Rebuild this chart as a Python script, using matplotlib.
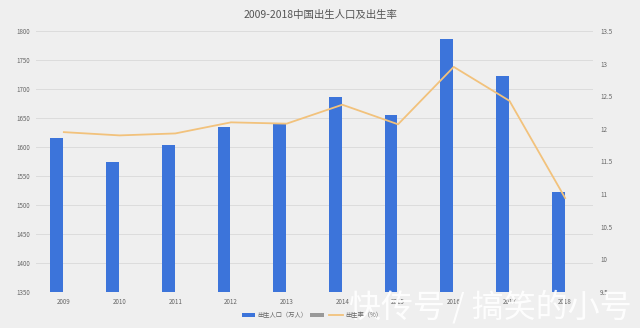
import matplotlib
matplotlib.use("Agg")
import matplotlib.pyplot as plt
import numpy as np
from matplotlib.patches import Patch
from matplotlib.lines import Line2D

plt.rcParams['font.family'] = ['Noto Sans CJK SC', 'DejaVu Sans']

years = ['2009', '2010', '2011', '2012', '2013', '2014', '2015', '2016', '2017', '2018']
births = [1615, 1574, 1604, 1635, 1640, 1687, 1655, 1786, 1723, 1523]
rate = [11.95, 11.90, 11.93, 12.10, 12.08, 12.37, 12.07, 12.95, 12.43, 10.94]
left_ticks = [1350, 1400, 1450, 1500, 1550, 1600, 1650, 1700, 1750, 1800]
right_ticks = [9.5, 10, 10.5, 11, 11.5, 12, 12.5, 13, 13.5]
right_labels = ['9.5', '10', '10.5', '11', '11.5', '12', '12.5', '13', '13.5']

bg = '#efefef'
bar_c = '#3c74da'
line_c = '#f2c27c'
txt_c = '#666666'

fig = plt.figure(figsize=(6.4, 3.28), dpi=100, facecolor=bg)
ax = fig.add_axes([36/640, 1-292/328, (593-36)/640, (292-31)/328])
ax.set_facecolor(bg)
x = np.arange(len(years))
ax.bar(x - 0.125, births, width=0.23, color=bar_c, zorder=2)
ax.set_ylim(1350, 1800)
ax.set_xlim(-0.5, len(years) - 0.5)
ax.set_yticks(left_ticks)
ax.set_yticklabels([str(t) for t in left_ticks], fontsize=4.5, color=txt_c)
ax.set_xticks(x)
ax.set_xticklabels(years, fontsize=4.5, color=txt_c)
ax.tick_params(length=0, pad=4)
ax.grid(axis='y', color='#dcdcdc', linewidth=0.7, zorder=0)
for s in ax.spines.values():
    s.set_visible(False)

ax2 = ax.twinx()
ax2.plot(x, rate, color=line_c, linewidth=1.3, zorder=3)
ax2.set_ylim(9.5, 13.5)
ax2.set_yticks(right_ticks)
ax2.set_yticklabels(right_labels, fontsize=4.5, color=txt_c)
ax2.tick_params(length=0, pad=5)
for s in ax2.spines.values():
    s.set_visible(False)

fig.text(0.5, 1-15/328, '2009-2018中国出生人口及出生率', ha='center', va='center',
         fontsize=7.5, color='#555555')

handles = [Patch(facecolor=bar_c, edgecolor='none'),
           Patch(facecolor='#999999', edgecolor='none'),
           Line2D([0], [0], color=line_c, linewidth=1.3)]
labels = ['出生人口（万人）', '', '出生率（%）']
fig.legend(handles, labels, loc='center', bbox_to_anchor=(312/640, 1-315/328),
           ncol=3, frameon=False, fontsize=4.5, handlelength=2.2, handleheight=0.6,
           columnspacing=0.4, handletextpad=0.4, labelcolor=txt_c)

fig.text(490/640, 1-307/328, '快传号 / 搞笑的小号', ha='center', va='center',
         fontsize=23, color='white', alpha=0.92)

fig.savefig('out.png', dpi=100, facecolor=bg)
